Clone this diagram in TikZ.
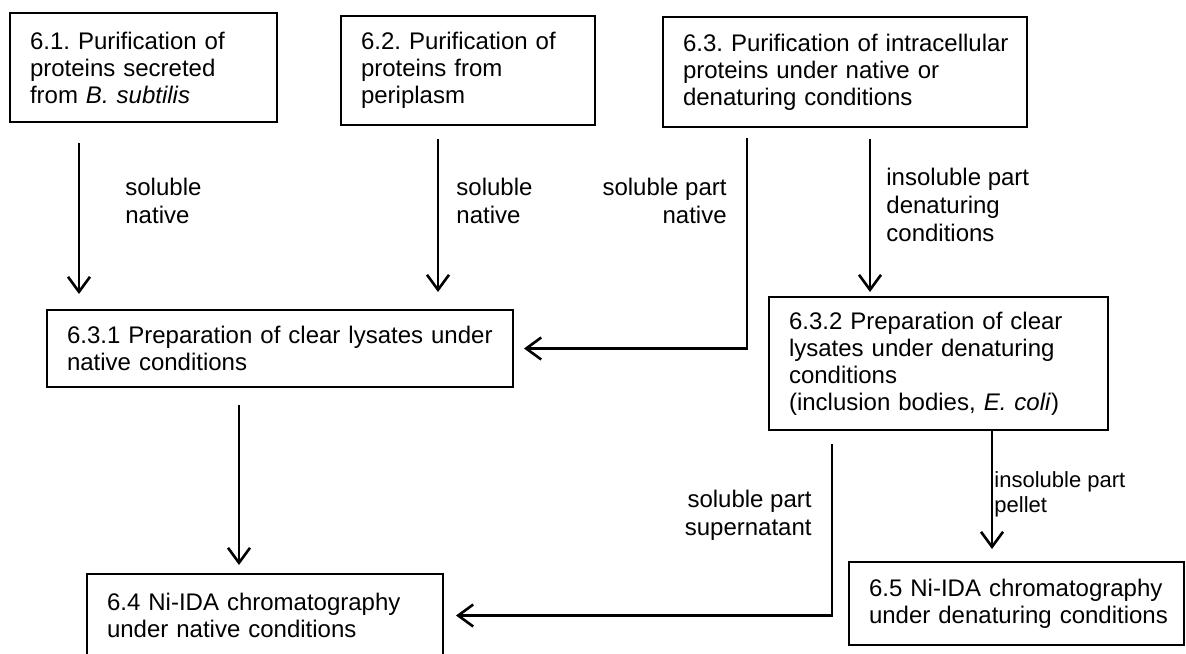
\documentclass[tikz,border=0pt]{standalone}
\usepackage{fontspec}
\setmainfont{Liberation Sans}
\usetikzlibrary{arrows.meta}
\frenchspacing
\begin{document}
\begin{tikzpicture}[x=0.5pt,y=-0.5pt,
  box/.style={draw, line width=1pt, rectangle, inner xsep=10pt, inner ysep=0pt,
    align=left, font=\fontsize{12}{13.5}\selectfont},
  lbl/.style={inner sep=0pt, font=\fontsize{12}{13.8}\selectfont},
  smalllbl/.style={inner sep=0pt, font=\fontsize{11}{12.5}\selectfont},
  arr/.style={line width=1.3pt, -{Straight Barb[length=7.5pt,width=11pt]}}]
\useasboundingbox (0,0) rectangle (1186,653);
\clip (0,0) rectangle (1186,653);

% boxes
\node[box, text width=113.5pt, minimum height=54.5pt] (b61) at (143.5,67.5)
  {6.1. Purification of\\proteins secreted\\from \textit{B. subtilis}};
\node[box, text width=107pt, minimum height=54.5pt] (b62) at (468,70.5)
  {6.2. Purification of\\proteins from\\periplasm};
\node[box, text width=162pt, minimum height=55pt] (b63) at (845,72)
  {\mbox{6.3. Purification of intracellular}\\proteins under native or\\denaturing conditions};
\node[box, text width=213pt, minimum height=38.5pt] (b631) at (280,348.5)
  {\mbox{6.3.1 Preparation of clear lysates under}\\native conditions};
\node[box, text width=149.5pt, minimum height=66.5pt] (b632) at (938.5,363.5)
  {6.3.2 Preparation of clear\\lysates under denaturing\\conditions\\(inclusion bodies, \textit{E. coli})};
\node[box, text width=158pt, minimum height=41.5pt] (b64) at (265,615.5)
  {6.4 Ni-IDA chromatography\\under native conditions};
\node[box, text width=147.5pt, minimum height=41.5pt] (b65) at (1016.5,603.5)
  {\mbox{6.5 Ni-IDA chromatography}\\\mbox{under denaturing conditions}};

% x positions of connectors
\coordinate (x1) at (79,0);
\coordinate (x2) at (438,0);
\coordinate (x3) at (747,0);
\coordinate (x4) at (870,0);
\coordinate (x5) at (239,0);
\coordinate (x6) at (832,0);
\coordinate (x7) at (992,0);

% connectors
\draw[arr, shorten <=10pt, shorten >=7.5pt] (b61.south -| x1) -- (b631.north -| x1);
\draw[arr, shorten <=6.5pt, shorten >=8.5pt] (b62.south -| x2) -- (b631.north -| x2);
\draw[arr, shorten <=5pt, shorten >=5pt] (b63.south -| x3) |- (b631.east);
\draw[arr, shorten <=5.5pt, shorten >=2pt] (b63.south -| x4) -- (b632.north -| x4);
\draw[arr, shorten <=8.5pt, shorten >=4pt] (b631.south -| x5) -- (b64.north -| x5);
\draw[arr, shorten <=6.5pt, shorten >=6pt] (b632.south -| x6) |- (b64.east);
\draw[arr, shorten >=6pt] (b632.south -| x7) -- (b65.north -| x7);

% labels
\node[lbl, anchor=west, align=left] (l1) at (125,201) {soluble\\native};
\node[lbl, anchor=west, align=left] (l2) at (456,201) {soluble\\native};
\node[lbl, anchor=east, align=right] (l3) at (727,201) {soluble part\\native};
\node[lbl, anchor=west, align=left] (l4) at (886,205) {insoluble part\\denaturing\\conditions};
\node[lbl, anchor=east, align=right] (l6) at (812,515) {soluble part\\supernatant};
\node[smalllbl, anchor=west, align=left] (l7) at (994,494) {insoluble part\\pellet};
\end{tikzpicture}
\end{document}
